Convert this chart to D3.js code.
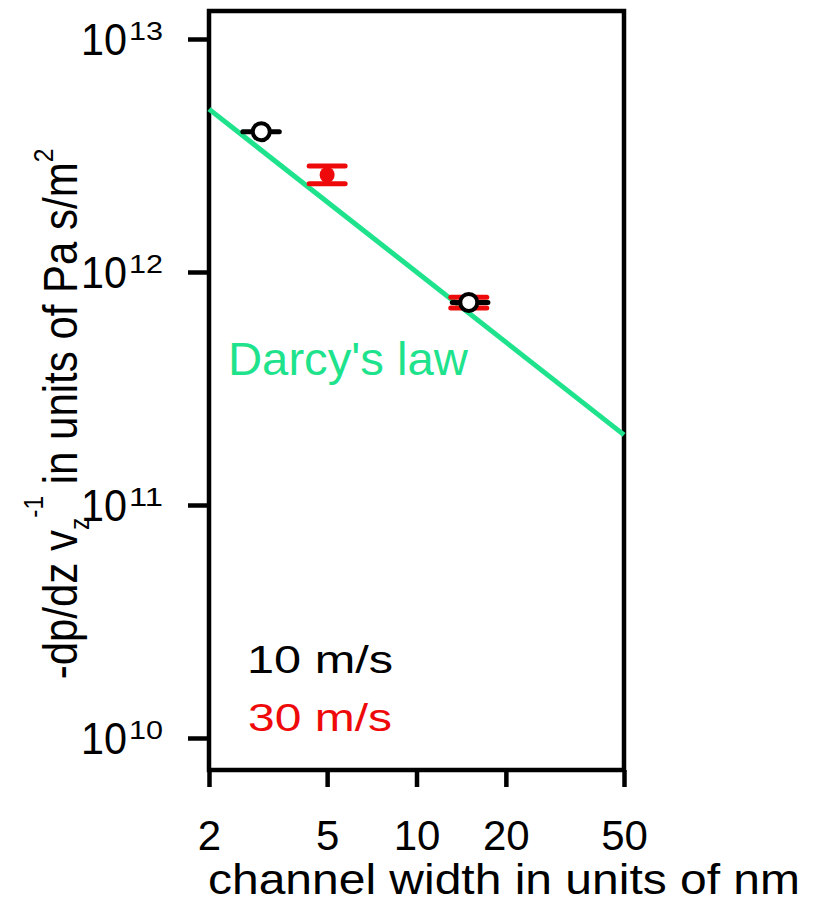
<!DOCTYPE html>
<html>
<head>
<meta charset="utf-8">
<script src="https://cdn.jsdelivr.net/npm/d3@7"></script>
<style>
  html, body { margin: 0; padding: 0; background: #fff; }
  svg { display: block; font-family: "Liberation Sans", Arial, sans-serif; }
</style>
</head>
<body>
<svg id="chart" width="817" height="907"></svg>
<script>
(function () {
// ---- data ----
const xTicks = [2, 5, 10, 20, 50];
const yTickExponents = [10, 11, 12, 13];

// 10 m/s series (black open circles, horizontal error bars)
const blackX = [3, 15];
const blackY = [4.0e12, 7.4e11];
const blackXLo = [2.6, 13.2];
const blackXHi = [3.45, 17.4];

// 30 m/s series (red filled, vertical error bars)
const redX = [5, 15];
const redY = [2.61e12, 7.4e11];
const redYLo = [2.39e12, 7.0e11];
const redYHi = [2.85e12, 7.8e11];

// Darcy's law line
const darcyX = [2, 50];
const darcyY = [5e12, 2e11];

const legendLabels = ["10 m/s", "30 m/s"];

// ---- layout ----
const svg = d3.select("#chart");
const pLeft = 209, pRight = 624, pTop = 11, pBottom = 770;
const x = d3.scaleLog().domain([2, 50]).range([pLeft, pRight]);
const y = d3.scaleLog().domain([1e10, 1e13]).range([738, 39]);

const GREEN = "#1fe38c";
const RED = "#ee0a0a";

// frame
svg.append("rect")
  .attr("x", pLeft).attr("y", pTop)
  .attr("width", pRight - pLeft).attr("height", pBottom - pTop)
  .attr("fill", "none").attr("stroke", "#000").attr("stroke-width", 4.5);

// y ticks
const yAxisG = svg.append("g").attr("transform", `translate(${pLeft},0)`);
const yAxis = d3.axisLeft(y)
  .tickValues(yTickExponents.map(e => Math.pow(10, e)))
  .tickSize(21).tickFormat("");
yAxisG.call(yAxis);
yAxisG.select(".domain").remove();
yAxisG.selectAll(".tick line").attr("stroke", "#000").attr("stroke-width", 4.5);

yTickExponents.forEach(e => {
  const ty = y(Math.pow(10, e));
  svg.append("text")
    .attr("x", 81).attr("y", ty + 16)
    .attr("font-size", 45).attr("fill", "#000")
    .attr("textLength", 46).attr("lengthAdjust", "spacingAndGlyphs")
    .text("10");
  svg.append("text")
    .attr("x", 129).attr("y", ty + 1)
    .attr("font-size", 25).attr("fill", "#000")
    .attr("textLength", 34).attr("lengthAdjust", "spacingAndGlyphs")
    .text(String(e));
});

// x ticks
const xAxisG = svg.append("g").attr("transform", `translate(0,${pBottom})`);
const xAxis = d3.axisBottom(x).tickValues(xTicks).tickSize(17).tickFormat(d3.format("d"));
xAxisG.call(xAxis);
xAxisG.select(".domain").remove();
xAxisG.selectAll(".tick line").attr("stroke", "#000").attr("stroke-width", 4.5);
xAxisG.selectAll(".tick text")
  .attr("font-size", 42).attr("fill", "#000")
  .attr("font-family", "'Liberation Sans', Arial, sans-serif")
  .attr("y", 850 - pBottom).attr("dy", 0);

// x axis title
svg.append("text")
  .attr("x", 208).attr("y", 894)
  .attr("font-size", 42).attr("fill", "#000")
  .attr("textLength", 592).attr("lengthAdjust", "spacingAndGlyphs")
  .text("channel width in units of nm");

// y axis title
const yt = svg.append("text")
  .attr("transform", "translate(77,414) rotate(-90) scale(0.875,1)")
  .attr("text-anchor", "middle")
  .attr("font-size", 48).attr("fill", "#000");
yt.append("tspan").text("-dp/dz v");
yt.append("tspan").attr("font-size", 28).attr("dy", 12).text("z");
yt.append("tspan").attr("font-size", 28).attr("dy", -46).text("-1");
yt.append("tspan").attr("dy", 34).text(" in units of Pa s/m");
yt.append("tspan").attr("font-size", 28).attr("dy", -24).text("2");

// Darcy line
const line = d3.line().x((d, i) => x(darcyX[i])).y((d, i) => y(darcyY[i]));
svg.append("path")
  .datum(darcyX)
  .attr("d", line)
  .attr("fill", "none").attr("stroke", GREEN).attr("stroke-width", 5);

svg.append("text")
  .attr("x", 228).attr("y", 375)
  .attr("font-size", 46).attr("fill", GREEN)
  .attr("textLength", 240).attr("lengthAdjust", "spacingAndGlyphs")
  .text("Darcy's law");

// red series: vertical error bars with caps + filled dot
redX.forEach((xv, i) => {
  const cx = x(xv);
  const g = svg.append("g");
  g.append("line")
    .attr("x1", cx).attr("x2", cx)
    .attr("y1", y(redYHi[i])).attr("y2", y(redYLo[i]))
    .attr("stroke", RED).attr("stroke-width", 7);
  [redYHi[i], redYLo[i]].forEach(v => {
    g.append("line")
      .attr("x1", cx - 18).attr("x2", cx + 18)
      .attr("y1", y(v)).attr("y2", y(v))
      .attr("stroke", RED).attr("stroke-width", 5).attr("stroke-linecap", "round");
  });
  g.append("ellipse")
    .attr("cx", cx).attr("cy", y(redY[i]))
    .attr("rx", 7.5).attr("ry", 8)
    .attr("fill", RED);
});

// black series: horizontal error bars + open circle
blackX.forEach((xv, i) => {
  const cy = y(blackY[i]);
  const g = svg.append("g");
  g.append("line")
    .attr("x1", x(blackXLo[i])).attr("x2", x(blackXHi[i]))
    .attr("y1", cy).attr("y2", cy)
    .attr("stroke", "#000").attr("stroke-width", 5).attr("stroke-linecap", "round");
  g.append("circle")
    .attr("cx", x(xv)).attr("cy", cy).attr("r", 8.5)
    .attr("fill", "#fff").attr("stroke", "#000").attr("stroke-width", 4);
});

// legend
svg.append("text").attr("x", 247).attr("y", 673)
  .attr("font-size", 38).attr("fill", "#000")
  .attr("textLength", 146).attr("lengthAdjust", "spacingAndGlyphs")
  .text(legendLabels[0]);
svg.append("text").attr("x", 248).attr("y", 731)
  .attr("font-size", 38).attr("fill", RED)
  .attr("textLength", 144).attr("lengthAdjust", "spacingAndGlyphs")
  .text(legendLabels[1]);
})();
</script>
</body>
</html>
